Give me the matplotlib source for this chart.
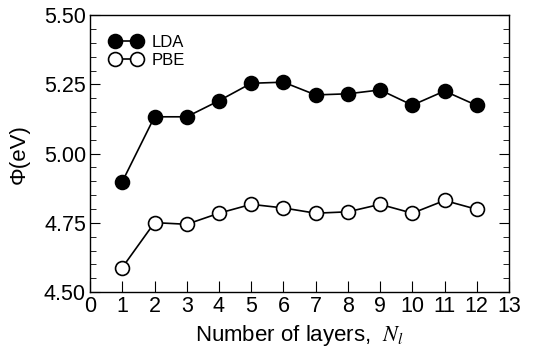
import matplotlib
matplotlib.use("Agg")
import matplotlib.pyplot as plt
from matplotlib.ticker import MultipleLocator

plt.rcParams['font.family'] = ['Liberation Sans', 'DejaVu Sans']
plt.rcParams['mathtext.fontset'] = 'stix'

layers = [1, 2, 3, 4, 5, 6, 7, 8, 9, 10, 11, 12]
lda = [4.899, 5.133, 5.133, 5.191, 5.254, 5.258, 5.212, 5.216, 5.230, 5.175, 5.226, 5.174]
pbe = [4.589, 4.751, 4.745, 4.785, 4.817, 4.804, 4.785, 4.790, 4.817, 4.785, 4.831, 4.799]

fig = plt.figure(figsize=(5.33, 3.52), dpi=100)
ax = fig.add_axes([0.169, 0.170, 0.786, 0.787])

ax.plot(layers, lda, '-o', color='black', lw=1.2, ms=10,
        mfc='black', mec='black', mew=1.2, label='LDA')
ax.plot(layers, pbe, '-o', color='black', lw=1.2, ms=10,
        mfc='white', mec='black', mew=1.2, label='PBE')

ax.set_xlim(0, 13)
ax.set_ylim(4.5, 5.5)
ax.set_xticks(range(0, 14))
ax.set_yticks([4.50, 4.75, 5.00, 5.25, 5.50])
ax.set_yticklabels(['4.50', '4.75', '5.00', '5.25', '5.50'])
ax.yaxis.set_minor_locator(MultipleLocator(0.05))

ax.tick_params(axis='both', which='both', direction='in', labelsize=15.5)
ax.tick_params(axis='y', which='both', right=True)
ax.tick_params(axis='y', which='major', length=7, pad=3)
ax.tick_params(axis='y', which='minor', length=4)
ax.tick_params(axis='x', which='major', length=8, pad=3)
for s in ax.spines.values():
    s.set_linewidth(1.0)

ax.set_xlabel(r'Number of layers,  $N_l$', fontsize=16, labelpad=4)
ax.set_ylabel('Φ(eV)', fontsize=16, labelpad=10)

ax.legend(loc='upper left', frameon=False, numpoints=2, fontsize=12,
          handlelength=1.9, handletextpad=0.6, labelspacing=0.15,
          borderaxespad=0.8)

fig.savefig('out.png', dpi=100)
